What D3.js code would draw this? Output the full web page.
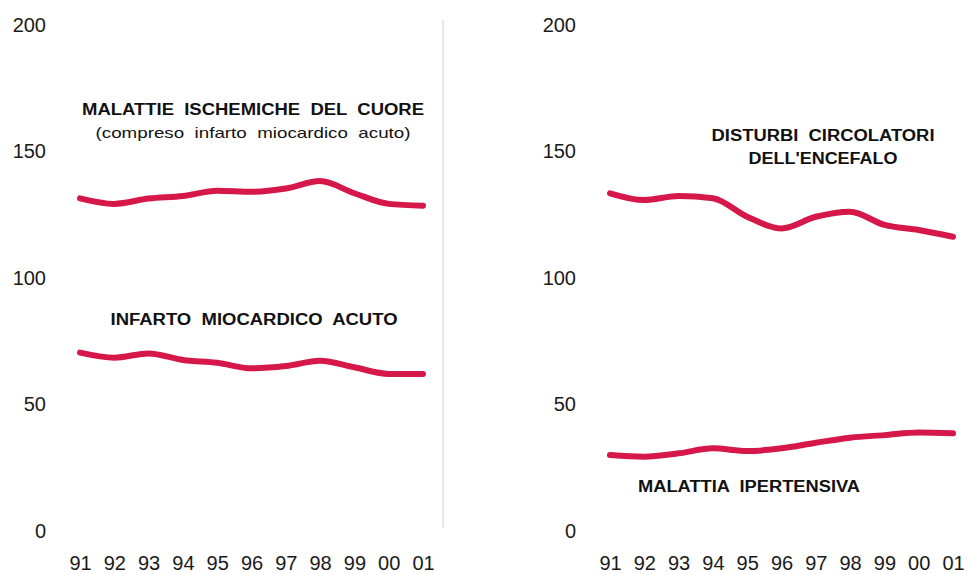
<!DOCTYPE html>
<html><head><meta charset="utf-8">
<script src="https://cdn.jsdelivr.net/npm/d3@7"></script>
<style>
body{margin:0;background:#fff;}
svg{display:block;}
.tick text{font-family:"Liberation Sans",Arial,sans-serif;fill:#1a1a1a;}
.ann{font-family:"Liberation Sans",Arial,sans-serif;fill:#111;white-space:pre;}
</style></head>
<body>
<svg id="c" width="968" height="574"></svg>
<script>
const years = ["91","92","93","94","95","96","97","98","99","00","01"];
const yTicks = [0,50,100,150,200];
const ischemiche = [131.1,128.9,131.0,132.0,134.1,133.7,135.0,137.9,133.1,128.9,128.2];
const infarto = [70.1,68.1,69.8,67.2,66.1,63.9,64.8,66.9,64.3,61.7,61.7];
const encefalo = [133.1,130.4,132.0,131.1,123.8,119.2,123.8,125.8,120.6,118.6,115.9];
const ipertensiva = [29.6,29.0,30.3,32.3,31.2,32.3,34.5,36.5,37.5,38.5,38.2];

const svg = d3.select("#c");
const color = "#d5174a";

const panels = [
  {x0:80, x1:423, axisX:46, series:[ischemiche, infarto],
   labels:[
     {t:"MALATTIE  ISCHEMICHE  DEL  CUORE", v:166.4, cx:253, bold:true, w:342},
     {t:"(compreso  infarto  miocardico  acuto)", v:156.9, cx:253, bold:false, w:315},
     {t:"INFARTO  MIOCARDICO  ACUTO", v:83.3, cx:254, bold:true, w:287}
   ]},
  {x0:610, x1:953, axisX:576, series:[encefalo, ipertensiva],
   labels:[
     {t:"DISTURBI  CIRCOLATORI", v:156.1, cx:823, bold:true, w:223},
     {t:"DELL'ENCEFALO", v:146.9, cx:823, bold:true, w:149},
     {t:"MALATTIA  IPERTENSIVA", v:17.1, cx:749, bold:true, w:222}
   ]}
];

const y = d3.scaleLinear().domain([0,200]).range([530,24]);

// divider
svg.append("line").attr("x1",443).attr("x2",443).attr("y1",20).attr("y2",528)
  .attr("stroke","#d8d8d8").attr("stroke-width",1.2);

panels.forEach(p=>{
  const x = d3.scalePoint().domain(years).range([p.x0,p.x1]);
  const ya = svg.append("g").attr("transform",`translate(${p.axisX},0)`)
    .call(d3.axisLeft(y).tickValues(yTicks).tickSize(0).tickPadding(0));
  ya.select(".domain").remove();
  ya.selectAll("text").attr("font-size",20).attr("dy","0.35em");
  const xa = svg.append("g").attr("transform",`translate(0,556)`)
    .call(d3.axisBottom(x).tickSize(0).tickPadding(0));
  xa.select(".domain").remove();
  xa.selectAll("text").attr("font-size",20).attr("dy","0.71em");

  const line = d3.line().x((d,i)=>x(years[i])).y(d=>y(d)).curve(d3.curveMonotoneX);
  p.series.forEach(s=>{
    svg.append("path").datum(s).attr("d",line).attr("fill","none")
      .attr("stroke",color).attr("stroke-width",6).attr("stroke-linecap","round").attr("stroke-linejoin","round");
  });
  p.labels.forEach(l=>{
    svg.append("text").attr("class","ann").attr("x",l.cx).attr("y",y(l.v))
      .attr("text-anchor","middle").attr("dy","0.35em")
      .attr("font-size",l.bold?16:15).attr("font-weight",l.bold?"bold":"normal")
      .attr("textLength",l.w).attr("lengthAdjust","spacingAndGlyphs")
      .text(l.t);
  });
});
</script>
</body></html>
